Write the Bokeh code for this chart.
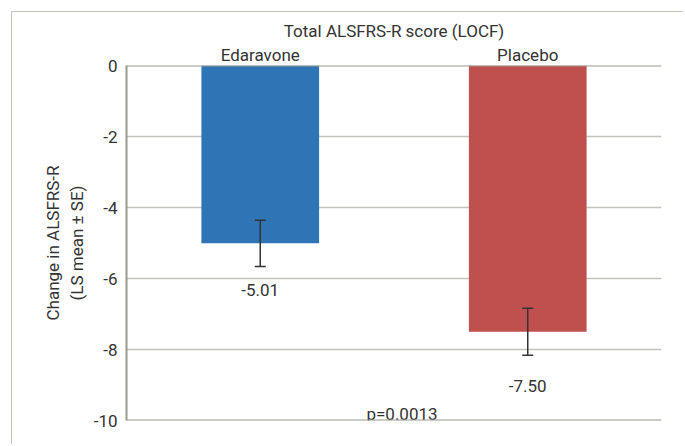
from bokeh.plotting import figure
from bokeh.models import (FactorRange, Range1d, FixedTicker, ColumnDataSource, Whisker,
                          TeeHead, LabelSet, Label, Span)
from bokeh.core.properties import value
from bokeh.embed import file_html
from bokeh.resources import INLINE

# ---- data ----
groups = ["Edaravone", "Placebo"]
ls_mean = [-5.01, -7.50]
se = [0.65, 0.66]
value_labels = ["-5.01", "-7.50"]
y_ticks = [0, -2, -4, -6, -8, -10]
title_text = "Total ALSFRS-R score (LOCF)"
y_label = "Change in ALSFRS-R\n(LS mean \u00b1 SE)"
p_text = "p=0.0013"

# ---- styles ----
bar_colors = ["#2E75B6", "#C0504D"]
label_offsets_px = [-30, -37]
FONT = "Roboto"
TXT = "#333333"
GRID = "#c2c2ba"
AXIS = "#9a9a90"

src = ColumnDataSource(dict(
    g=groups, v=ls_mean, top=[0] * len(groups),
    upper=[m + s for m, s in zip(ls_mean, se)],
    lower=[m - s for m, s in zip(ls_mean, se)],
    lab=value_labels, color=bar_colors, off=label_offsets_px,
))

p = figure(x_range=FactorRange(*groups), y_range=Range1d(min(y_ticks), max(y_ticks)),
           width=672, height=433, output_backend="svg", toolbar_location=None,
           x_axis_location="above", title=title_text,
           min_border_left=114, min_border_right=23, min_border_top=53, min_border_bottom=25)
p.x_range.range_padding = 0

p.styles = {"border-left": "1.5px solid #c4c4bc", "border-top": "1.5px solid #c4c4bc",
            "margin-left": "11px", "margin-top": "11px"}

p.title.text_font = FONT
p.title.text_font_size = "17px"
p.title.text_font_style = "normal"
p.title.text_color = TXT
p.title.align = "center"
p.title.standoff = 1

p.vbar(x="g", top="top", bottom="v", width=0.44, fill_color="color", line_color=None, source=src)

w = Whisker(base="g", upper="upper", lower="lower", source=src, line_color="#333333", line_width=1.5,
            upper_head=TeeHead(size=11, line_color="#333333", line_width=1.5),
            lower_head=TeeHead(size=11, line_color="#333333", line_width=1.5),
            level="annotation")
p.add_layout(w)

ls = LabelSet(x="g", y="lower", text="lab", y_offset="off", source=src, text_align="center",
              text_baseline="alphabetic", text_font=value(FONT), text_font_size=value("17px"),
              text_color=value(TXT))
p.add_layout(ls)

p.add_layout(Label(x=1.03, y=-9.81, text=p_text, text_align="center", text_baseline="alphabetic",
                   text_font=FONT, text_font_size="17px", text_color=TXT))

# x axis (above): category names
xa = p.xaxis[0]
xa.axis_line_color = None
xa.major_tick_line_color = None
xa.minor_tick_line_color = None
xa.major_tick_out = 0
xa.major_tick_in = 0
xa.major_label_standoff = 1
xa.major_label_text_font = FONT
xa.major_label_text_font_size = "17px"
xa.major_label_text_color = TXT
p.xgrid.visible = False

# y axis
ya = p.yaxis[0]
ya.ticker = FixedTicker(ticks=y_ticks)
ya.major_label_overrides = {t: str(t) for t in y_ticks}
ya.axis_line_color = AXIS
ya.axis_line_width = 2
ya.major_tick_line_color = None
ya.minor_tick_line_color = None
ya.major_tick_out = 0
ya.major_tick_in = 0
ya.major_label_standoff = 9
ya.major_label_text_font = FONT
ya.major_label_text_font_size = "17px"
ya.major_label_text_color = TXT
ya.axis_label = y_label
ya.axis_label_text_font = FONT
ya.axis_label_text_font_size = "17px"
ya.axis_label_text_font_style = "normal"
ya.axis_label_text_color = TXT
ya.axis_label_standoff = 4
p.ygrid.ticker = FixedTicker(ticks=y_ticks)
p.ygrid.grid_line_color = GRID
p.ygrid.grid_line_width = 1.5

p.add_layout(Span(location=max(y_ticks), dimension="width", line_color=AXIS, line_width=2))
p.add_layout(Span(location=min(y_ticks), dimension="width", line_color=AXIS, line_width=2))

p.outline_line_color = None
p.background_fill_color = "white"
p.border_fill_color = "white"

open("out.html", "w").write(file_html(p, INLINE))
